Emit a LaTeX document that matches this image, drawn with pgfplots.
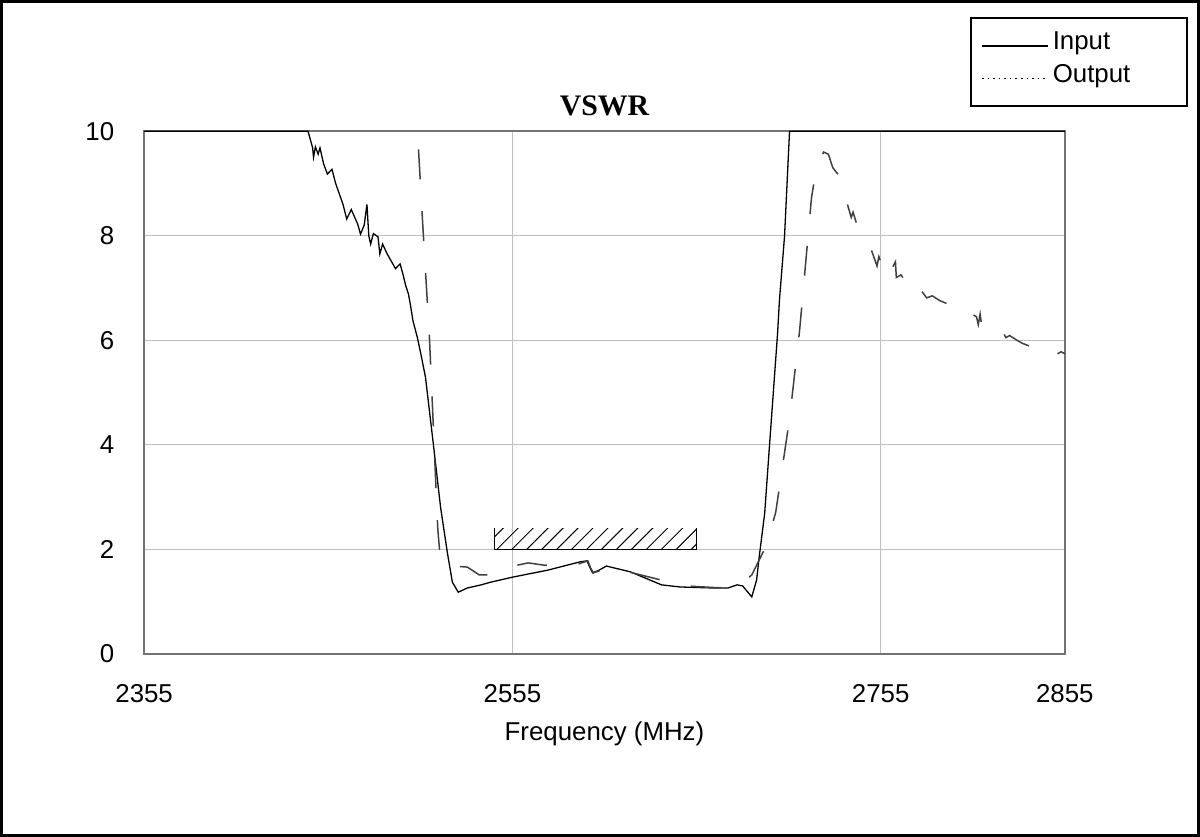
\documentclass[border=0pt]{standalone}
\usepackage{fontspec}
\setmainfont{Liberation Sans}
\newfontfamily\timesfont{Liberation Serif}
\usepackage{pgfplots}
\pgfplotsset{compat=1.18}
\usetikzlibrary{patterns.meta}

\pgfplotsset{
  legend image code/.code={\draw[#1] (0bp,0bp) -- (33bp,0bp);},
}

\begin{document}
\begin{tikzpicture}
% outer frame of the chart
\draw[line width=1.5bp] (-71.5bp,-91bp) rectangle (528.5bp,327bp);
\begin{axis}[
  at={(0,0)}, anchor=south west, scale only axis,
  width=461.5bp, height=262bp,
  xmin=2355, xmax=2855, ymin=0, ymax=10,
  xtick={2355,2555,2755,2855}, ytick={0,2,4,6,8,10},
  grid=major, grid style={line width=0.6bp, black!25},
  axis line style={line width=0.75bp, black!55},
  major tick length=0pt,
  tick label style={font=\fontsize{13}{15}\selectfont},
  /pgf/number format/assume math mode=true,
  /pgf/number format/set thousands separator={},
  xticklabel style={yshift=-12bp},
  yticklabel style={xshift=-11.5bp},
  xlabel={Frequency (MHz)},
  xlabel style={font=\fontsize{13}{15}\selectfont, at={(axis description cs:0.5,0)}, anchor=center, yshift=-40bp},
  title={\timesfont\bfseries VSWR},
  every axis title shift=0pt,
  title style={font=\fontsize{15}{18}\selectfont, at={(axis description cs:0.5,1)}, anchor=center, yshift=12.5bp},
  clip=false,
  legend cell align=left,
  legend style={at={(0.897,1.218)}, anchor=north west, draw=black, line width=1bp,
    font=\fontsize{13}{15}\selectfont, inner xsep=5bp, inner ysep=5.5bp,
    row sep=0pt, column sep=0pt,
    nodes={inner xsep=2bp, inner ysep=0bp, text height=10bp, text depth=6.5bp}},
]

% spec mask
\addplot[forget plot, draw=black, line width=0.5bp,
  pattern={Lines[angle=45, distance=5.3bp, line width=0.5bp]}]
  coordinates {(2545,2.4) (2545,2) (2655,2) (2655,2.4)};

% Input
\addplot[black, line width=0.65bp, legend image post style={line width=1bp}] table {
2355 10
2444 10
2446.5 9.68
2447 9.5
2448 9.7
2449.5 9.56
2450.5 9.68
2452.5 9.37
2454.5 9.18
2457 9.27
2459 9.0
2461 8.8
2463 8.6
2465 8.32
2467.5 8.5
2471 8.22
2472.5 8.03
2474.5 8.2
2476 8.6
2477 8.0
2478 7.84
2479.5 8.04
2482 7.98
2483 7.65
2484.5 7.84
2487 7.65
2491.5 7.37
2494 7.46
2495.5 7.27
2497 7.05
2498.5 6.89
2499.5 6.7
2501 6.37
2503.4 6.05
2505.5 5.7
2507.8 5.29
2512 4.03
2516 2.8
2519.7 1.93
2522.4 1.37
2525.6 1.18
2530.5 1.26
2538 1.32
2543 1.37
2555.4 1.47
2574 1.6
2591.7 1.76
2595.5 1.78
2597 1.66
2598.5 1.55
2602 1.6
2606 1.68
2619 1.57
2636 1.32
2646 1.28
2664 1.26
2672 1.26
2677 1.32
2680 1.30
2685 1.09
2687.6 1.41
2689 1.85
2692 2.69
2694.7 4.03
2699 6.13
2700 6.76
2702.8 8.0
2705.5 10
2855 10
};
\addlegendentry{Input}

% Output
\addplot[forget plot, black!75, line width=0.75bp, dash pattern=on 15bp off 16bp] table {
2504 9.65
2506 8.4
2508 7.2
2510 6.0
2511.5 4.8
2513 3.57
2514.5 2.37
2516 1.76
2523 1.68
2530.5 1.66
2534 1.58
2537 1.51
2544 1.51
2549 1.6
2555.4 1.68
2563.5 1.74
2571.7 1.70
2580 1.68
2589 1.70
2596 1.78
2597.5 1.64
2599 1.55
2603 1.6
2609 1.66
2619 1.56
2636 1.41
2649 1.30
2664 1.27
2672 1.26
2678 1.3
2685 1.51
2693 2.08
2698 2.71
2705.5 4.5
2711 6.2
2717.4 8.72
2720 9.29
2724 9.6
2726.6 9.56
2729 9.3
2732.6 9.14
2737.5 8.53
2739 8.35
2740 8.45
2742 8.22
2746 8.0
2748 7.9
2750.5 7.67
2753 7.42
2754 7.6
2755.5 7.45
2756.5 7.56
2758 7.48
2760 7.3
2763 7.5
2763.5 7.2
2766 7.25
2769 7.1
2771 7.2
2774 7.0
2777 6.95
2780 6.81
2783 6.85
2787 6.76
2791 6.7
2795 6.6
2798 6.64
2800 6.56
2803 6.53
2807 6.45
2808 6.3
2809 6.5
2810 6.24
2814 6.2
2817 6.25
2821 6.18
2823 6.05
2825 6.09
2829 6.0
2832 5.94
2835 5.9
2837 5.85
2839 5.8
2843 5.82
2847 5.8
2850 5.72
2853 5.78
2855 5.74
};
\addlegendimage{black, line width=0.8bp, dotted}
\addlegendentry{Output\hspace*{21.5bp}}
\end{axis}
\end{tikzpicture}
\end{document}
